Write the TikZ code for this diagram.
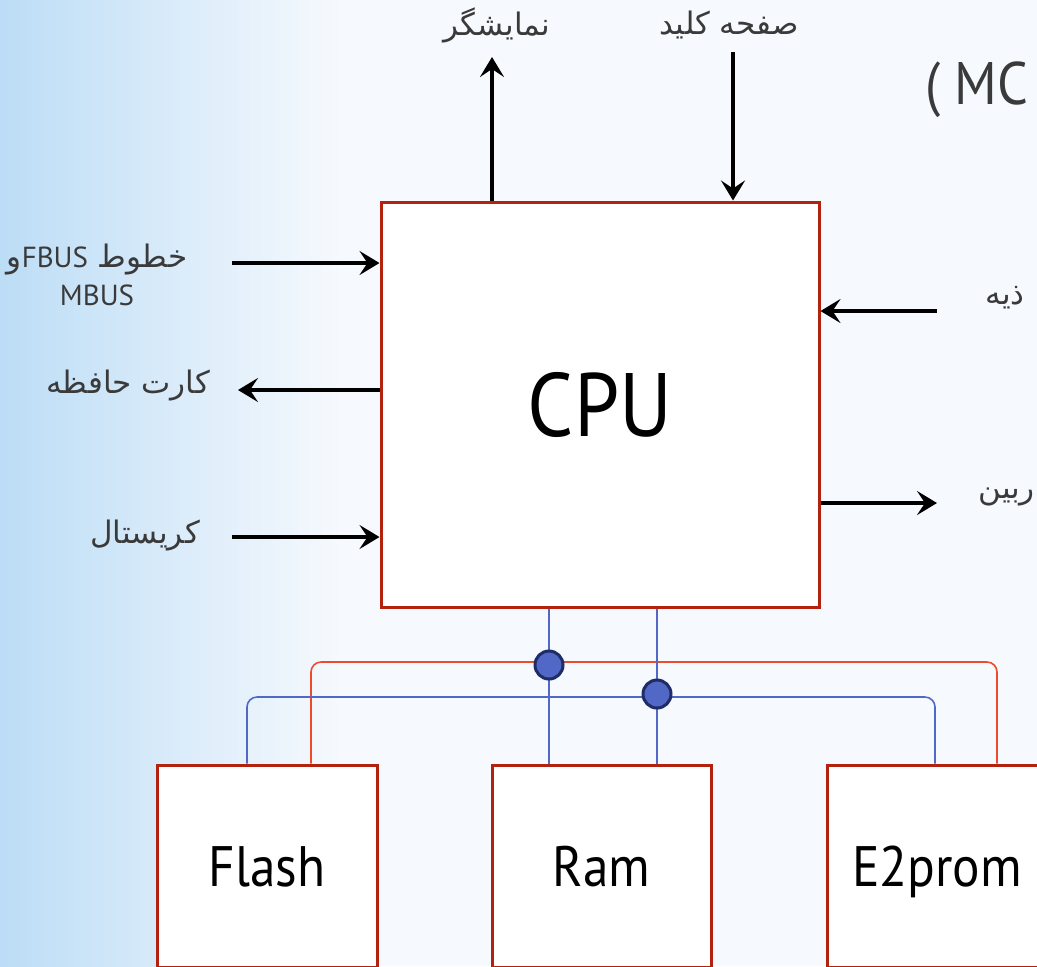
\documentclass[tikz,border=0pt]{standalone}
\usepackage{fontspec}
\usetikzlibrary{arrows.meta,positioning,calc}
\TeXXeTstate=1
\setmainfont[FakeStretch=0.9]{PT Sans}
\newfontfamily\arabicfont[Script=Arabic]{DejaVu Sans}
\newfontfamily\latinlabel{PT Sans}
\definecolor{ink}{HTML}{000000}
\definecolor{labelgray}{HTML}{3A3A3A}
\definecolor{boxred}{HTML}{B3220F}
\definecolor{busred}{HTML}{EE4A2E}
\definecolor{busblue}{HTML}{5168C6}
\definecolor{dotnavy}{HTML}{1E2C68}
\definecolor{skyleft}{HTML}{BCDDF6}
\definecolor{skyright}{HTML}{F6F9FD}

\tikzset{
  unitbox/.style={draw=boxred, line width=1.5pt, fill=white, inner sep=0pt, text=ink},
  memtext/.style={font=\fontsize{28.5}{34}\selectfont, text height=20pt, text depth=0pt},
  sig/.style={draw=ink, line width=2pt, -{Stealth[length=10pt,width=12pt,inset=4pt]}},
  falabel/.style={font=\arabicfont\fontsize{15.5}{19}\selectfont, text=labelgray, inner sep=0pt},
  busline/.style={line width=0.8pt, rounded corners=5pt},
  junction/.style={circle, draw=dotnavy, fill=busblue, line width=1.5pt, minimum size=14pt, inner sep=0pt}
}

\begin{document}
\begin{tikzpicture}[x=0.5pt, y=-0.5pt]
  \useasboundingbox (0,0) rectangle (1037,966);
  \clip (0,0) rectangle (1037,966);
  % background
  \shade[left color=skyleft, right color=skyright] (0,0) rectangle (340,966);
  \fill[skyright] (340,0) rectangle (1037,966);

  % units
  \node[unitbox, minimum width=219pt, minimum height=202.5pt,
    font=\fontsize{45}{54}\selectfont] (cpu) at (600,404.5) {CPU};
  \node[unitbox, memtext, minimum width=110pt, minimum height=101pt] (flash) at (267,866) {Flash};
  \node[unitbox, memtext, minimum width=109.5pt, minimum height=101pt] (ram) at (601.5,866) {Ram};
  \node[unitbox, memtext, minimum width=110pt, minimum height=101pt] (eprom) at (937,866) {E2prom};

  % labels
  \node[text=labelgray, anchor=west, font=\fontsize{30}{36}\selectfont] (title) at (918,90) {( MC};
  \node[falabel] (disp) at (497,25) {\beginR نمایشگر\endR};
  \node[falabel] (keyp) at (729,25) {\beginR صفحه کلید\endR};
  \node[falabel, align=center] (fbus) at (97,275)
    {\beginR خطوط \beginL{\latinlabel\fontsize{14.5}{19}\selectfont FBUS}\endL و\endR\\{\latinlabel\fontsize{14.5}{19}\selectfont MBUS}};
  \node[falabel] (card) at (128,385) {\beginR کارت حافظه\endR};
  \node[falabel] (xtal) at (145,535) {\beginR کریستال\endR};
  \node[falabel, anchor=west] (pwr) at (985,298) {\beginR ذیه\endR};
  \node[falabel, anchor=west] (cam) at (978,497) {\beginR ربین\endR};

  % signal arrows
  \coordinate (dispTip) at (492,57);
  \coordinate (keyTail) at (733,52);
  \coordinate (fbusTail) at (232,263);
  \coordinate (cardTip) at (238,390);
  \coordinate (xtalTail) at (232,537);
  \coordinate (pwrTail) at (937,311);
  \coordinate (camTip) at (937,503);
  \draw[sig] (cpu.north -| dispTip) -- (dispTip);
  \draw[sig] (keyTail) -- (cpu.north -| keyTail);
  \draw[sig] (fbusTail) -- (cpu.west |- fbusTail);
  \draw[sig] (cpu.west |- cardTip) -- (cardTip);
  \draw[sig] (xtalTail) -- (cpu.west |- xtalTail);
  \draw[sig] (pwrTail) -- (cpu.east |- pwrTail);
  \draw[sig] (cpu.east |- camTip) -- (camTip);

  % memory buses
  \coordinate (redL) at (311,662);
  \coordinate (redR) at (997,662);
  \coordinate (blueL) at (247,697);
  \coordinate (blueR) at (935,697);
  \coordinate (tapA) at (549,665);
  \coordinate (tapB) at (657,694);
  \draw[busline, draw=busred] (flash.north -| redL) -- (redL) -- (redR) -- (eprom.north -| redR);
  \draw[busline, draw=busblue] (flash.north -| blueL) -- (blueL) -- (blueR) -- (eprom.north -| blueR);
  \draw[busline, draw=busblue] (cpu.south -| tapA) -- (ram.north -| tapA);
  \draw[busline, draw=busblue] (cpu.south -| tapB) -- (ram.north -| tapB);
  \node[junction] (dotA) at (tapA) {};
  \node[junction] (dotB) at (tapB) {};
\end{tikzpicture}
\end{document}
